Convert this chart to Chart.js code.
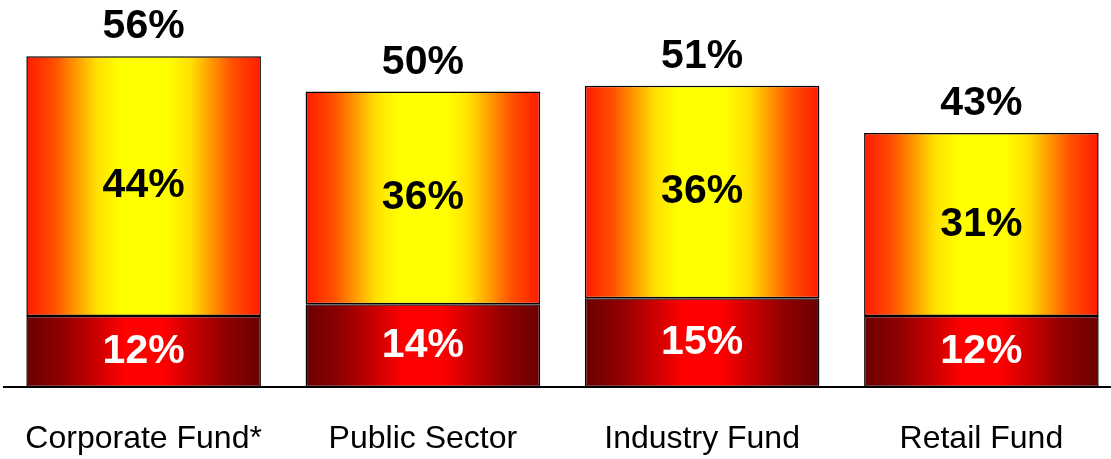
<!DOCTYPE html>
<html>
<head>
<meta charset="utf-8">
<script src="https://cdn.jsdelivr.net/npm/chart.js@4"></script>
<style>
    html, body { margin: 0; padding: 0; background: #fff; overflow: hidden; }
    canvas { display: block; }
</style>
</head>
<body>
<canvas id="fundChart" width="1121" height="459"></canvas>
<script>
const categories = ["Corporate Fund*", "Public Sector", "Industry Fund", "Retail Fund"];
const lowerShare = [12, 14, 15, 12];
const upperShare = [44, 36, 36, 31];

const BAR_PCT = 0.84;

// horizontal gradient across one bar, built from the x scale position
function barGradient(ctx, stops) {
    const chart = ctx.chart;
    const xScale = chart.scales.x;
    if (!xScale || ctx.dataIndex === undefined) return stops[0][1];
    const center = xScale.getPixelForValue(ctx.dataIndex);
    const half = (xScale.width / categories.length) * BAR_PCT / 2;
    if (!isFinite(center) || !isFinite(half) || half <= 0) return stops[0][1];
    const g = chart.ctx.createLinearGradient(center - half, 0, center + half, 0);
    stops.forEach(s => g.addColorStop(s[0], s[1]));
    return g;
}

const darkStops = [
    [0, "#6a0000"], [0.15, "#900000"], [0.3, "#cc0000"], [0.42, "#ff0000"],
    [0.58, "#ff0000"], [0.7, "#cc0000"], [0.85, "#900000"], [1, "#6a0000"]
];
const hotStops = [
    [0, "#ff1a00"], [0.12, "#ff5000"], [0.2, "#ff9000"], [0.3, "#ffe000"], [0.4, "#ffff00"],
    [0.6, "#ffff00"], [0.7, "#ffe000"], [0.8, "#ff9000"], [0.88, "#ff5000"], [1, "#ff1a00"]
];

const labelPlugin = {
    id: "barLabels",
    afterDatasetsDraw(chart) {
        const ctx = chart.ctx;
        const lower = chart.getDatasetMeta(0).data;
        const upper = chart.getDatasetMeta(1).data;
        ctx.save();
        ctx.textAlign = "center";
        ctx.textBaseline = "middle";
        ctx.font = "bold 41px 'Liberation Sans', Arial, sans-serif";
        categories.forEach((c, i) => {
            const lo = lower[i], up = upper[i];
            ctx.fillStyle = "#ffffff";
            ctx.fillText(lowerShare[i] + "%", lo.x, (lo.y + lo.base) / 2);
            ctx.fillStyle = "#000000";
            ctx.fillText(upperShare[i] + "%", up.x, (up.y + up.base) / 2);
            ctx.fillText((lowerShare[i] + upperShare[i]) + "%", up.x, up.y - 29);
        });
        ctx.restore();
    }
};

new Chart(document.getElementById("fundChart"), {
    type: "bar",
    data: {
        labels: categories,
        datasets: [
            {
                data: lowerShare,
                backgroundColor: ctx => barGradient(ctx, darkStops),
                borderColor: "#000",
                borderWidth: 1.5,
                borderSkipped: false
            },
            {
                data: upperShare,
                backgroundColor: ctx => barGradient(ctx, hotStops),
                borderColor: "#000",
                borderWidth: 1.5,
                borderSkipped: false
            }
        ]
    },
    options: {
        responsive: false,
        animation: false,
        layout: { padding: { left: 4, right: 0, top: 0, bottom: 0 } },
        datasets: { bar: { categoryPercentage: 1, barPercentage: BAR_PCT } },
        plugins: {
            legend: { display: false },
            tooltip: { enabled: false }
        },
        scales: {
            x: {
                stacked: true,
                grid: { display: false, drawTicks: false },
                border: { display: true, color: "#000", width: 2 },
                ticks: {
                    color: "#000",
                    padding: 12,
                    maxRotation: 0,
                    font: { family: "'Liberation Sans', Arial, sans-serif", size: 32, lineHeight: 2.5 }
                },
                afterFit: scale => { scale.height = 72; }
            },
            y: {
                stacked: true,
                display: false,
                min: 0,
                max: 65.5
            }
        }
    },
    plugins: [labelPlugin]
});
</script>
</body>
</html>
